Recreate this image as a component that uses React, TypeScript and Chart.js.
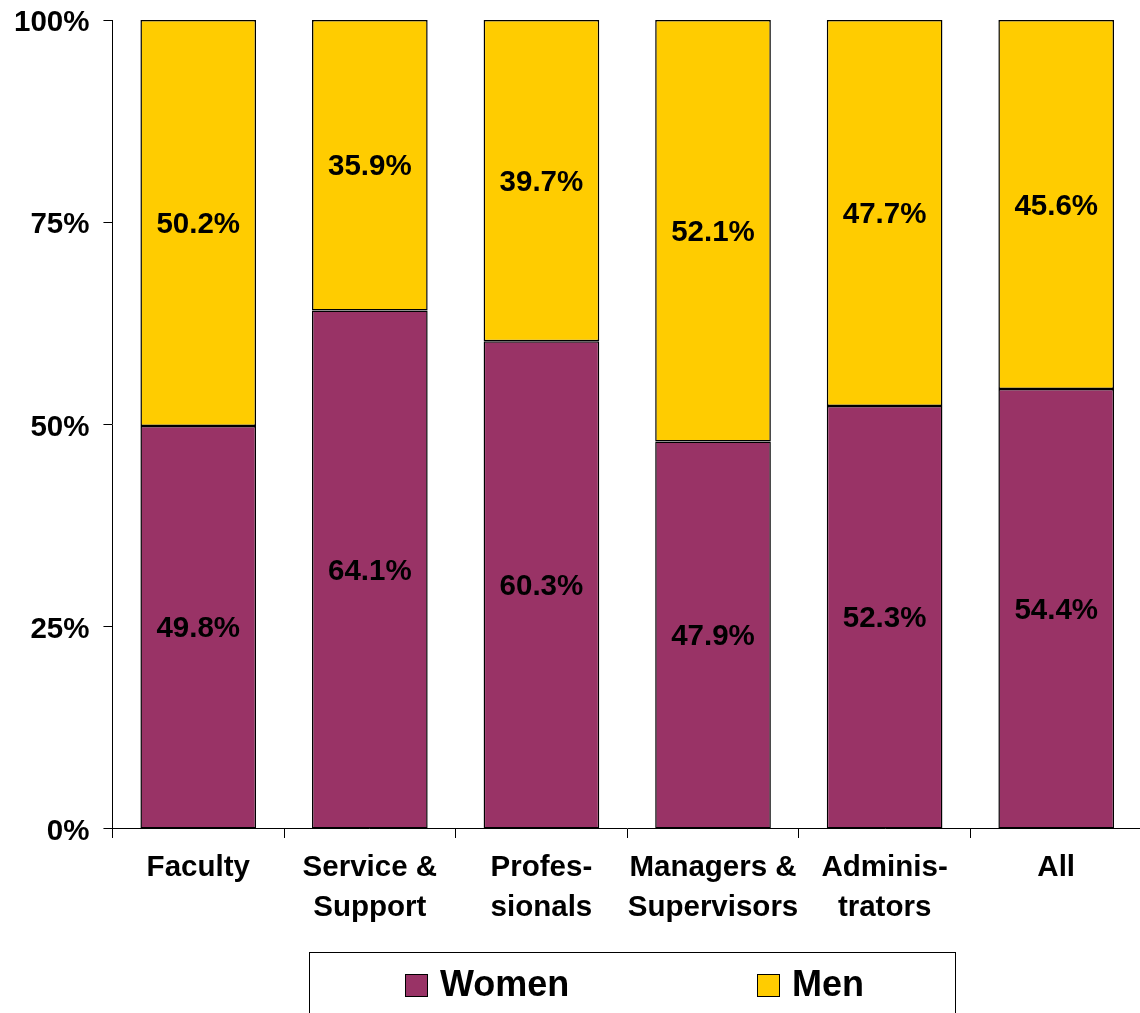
import { useEffect, useRef } from 'react';
import { Chart, registerables } from 'chart.js';

Chart.register(...registerables);

const categories: string[][] = [
  ['Faculty'],
  ['Service &', 'Support'],
  ['Profes-', 'sionals'],
  ['Managers &', 'Supervisors'],
  ['Adminis-', 'trators'],
  ['All'],
];
const seriesNames = ['Women', 'Men'];
const women = [49.8, 64.1, 60.3, 47.9, 52.3, 54.4];
const men = [50.2, 35.9, 39.7, 52.1, 47.7, 45.6];
const yTicks = [0, 25, 50, 75, 100];

const FONT = '"Liberation Sans", Arial, Helvetica, sans-serif';
const FS = 29.5;
const PURPLE = '#993366';
const YELLOW = '#FFCC00';

const valueLabels = {
  id: 'valueLabels',
  afterDatasetsDraw(chart: any) {
    const ctx = chart.ctx;
    ctx.save();
    ctx.font = `bold ${FS}px ${FONT}`;
    ctx.fillStyle = '#000';
    ctx.textAlign = 'center';
    ctx.textBaseline = 'middle';
    chart.data.datasets.forEach((ds: any, di: number) => {
      const meta = chart.getDatasetMeta(di);
      meta.data.forEach((el: any, i: number) => {
        const { x, y, base } = el.getProps(['x', 'y', 'base'], true);
        ctx.fillText(Number(ds.data[i]).toFixed(1) + '%', x, (y + base) / 2 + 2);
      });
    });
    ctx.restore();
  },
};

const boxedLegend = {
  id: 'boxedLegend',
  afterDraw(chart: any) {
    const ctx = chart.ctx;
    ctx.save();
    ctx.strokeStyle = '#000';
    ctx.lineWidth = 1;
    ctx.strokeRect(309.5, 952.5, 646, 140);
    const xs = [405, 757];
    ctx.font = `bold 36px ${FONT}`;
    ctx.textBaseline = 'middle';
    ctx.textAlign = 'left';
    chart.data.datasets.forEach((ds: any, i: number) => {
      ctx.fillStyle = ds.backgroundColor;
      ctx.fillRect(xs[i], 974, 23, 23);
      ctx.strokeStyle = '#000';
      ctx.strokeRect(xs[i] + 0.5, 974.5, 22, 22);
      ctx.fillStyle = '#000';
      ctx.fillText(ds.label, xs[i] + 35, 986);
    });
    ctx.restore();
  },
};

export default function App() {
  const ref = useRef<HTMLCanvasElement>(null);

  useEffect(() => {
    document.body.style.margin = '0';
    document.body.style.overflow = 'hidden';
    const canvas = ref.current;
    if (!canvas) return;
    const chart = new Chart(canvas, {
      type: 'bar',
      data: {
        labels: categories,
        datasets: [
          {
            label: seriesNames[0],
            data: women,
            backgroundColor: PURPLE,
            borderColor: '#000',
            borderWidth: 1.5,
            borderSkipped: false,
          },
          {
            label: seriesNames[1],
            data: men,
            backgroundColor: YELLOW,
            borderColor: '#000',
            borderWidth: 1.5,
            borderSkipped: false,
          },
        ],
      },
      options: {
        responsive: false,
        animation: false,
        devicePixelRatio: 1,
        layout: { padding: { left: 0, top: 20, right: 8, bottom: 75 } },
        datasets: { bar: { categoryPercentage: 1, barPercentage: 0.674 } },
        plugins: {
          legend: { display: false },
          tooltip: { enabled: false },
        },
        scales: {
          x: {
            stacked: true,
            offset: true,
            grid: {
              display: true,
              drawOnChartArea: false,
              drawTicks: true,
              tickLength: 9,
              color: '#000',
              lineWidth: 1,
              offset: true,
            },
            border: { display: true, color: '#000', width: 1 },
            ticks: {
              color: '#000',
              padding: 10,
              maxRotation: 0,
              autoSkip: false,
              font: { family: FONT, size: FS, weight: 'bold', lineHeight: 1.356 },
            },
          },
          y: {
            stacked: true,
            min: 0,
            max: 100,
            afterBuildTicks: (scale: any) => {
              scale.ticks = yTicks.map((v) => ({ value: v }));
            },
            afterFit: (scale: any) => {
              scale.paddingTop = 0;
              scale.paddingBottom = 0;
            },
            grid: {
              display: true,
              drawOnChartArea: false,
              drawTicks: true,
              tickLength: 9,
              color: '#000',
              lineWidth: 1,
            },
            border: { display: true, color: '#000', width: 1 },
            ticks: {
              color: '#000',
              padding: 14,
              labelOffset: 3,
              callback: (v: any) => v + '%',
              font: { family: FONT, size: FS, weight: 'bold', lineHeight: 1 },
            },
          },
        },
      } as any,
      plugins: [valueLabels, boxedLegend],
    });
    return () => chart.destroy();
  }, []);

  return (
    <div style={{ width: 1150, height: 1013, overflow: 'hidden' }}>
      <canvas ref={ref} width={1150} height={1013} style={{ display: 'block' }} />
    </div>
  );
}
